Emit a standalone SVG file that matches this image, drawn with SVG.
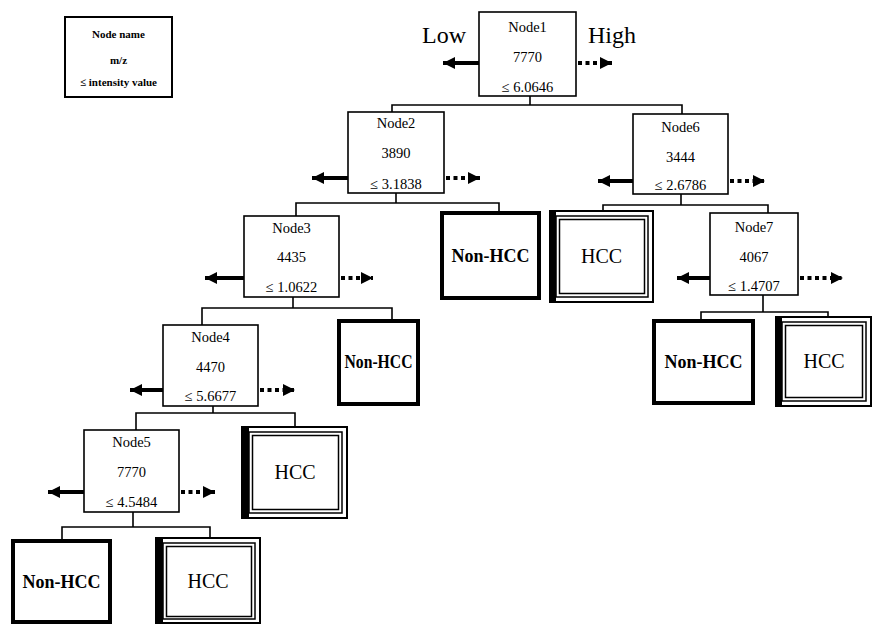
<svg xmlns="http://www.w3.org/2000/svg" width="873" height="624" viewBox="0 0 873 624">
<defs>
<style>
.bg{fill:#fff}
.nb{fill:#fff;stroke:#000;stroke-width:1.6}
.lg{fill:#fff;stroke:#000;stroke-width:2}
.t{font-family:"Liberation Serif","DejaVu Serif",serif;font-size:14.5px;fill:#000;text-anchor:middle}
.lt{font-family:"Liberation Serif","DejaVu Serif",serif;font-size:11px;font-weight:bold;fill:#000;text-anchor:middle}
.big{font-family:"Liberation Serif","DejaVu Serif",serif;font-size:24px;fill:#000}
.nh{fill:#fff;stroke:#000;stroke-width:4}
.nht{font-family:"Liberation Serif","DejaVu Serif",serif;font-size:18px;font-weight:bold;fill:#000;text-anchor:middle}
.ho{fill:#fff;stroke:#000;stroke-width:2}
.hi{fill:none;stroke:#000;stroke-width:1.5}
.hs{fill:#000}
.ht{font-family:"Liberation Serif","DejaVu Serif",serif;font-size:20px;fill:#000;text-anchor:middle}
.c{fill:none;stroke:#000;stroke-width:1.6}
.lo{stroke:#000;stroke-width:4;fill:none;marker-end:url(#ah)}
.hiA{stroke:#000;stroke-width:4;fill:none;stroke-dasharray:4 3.5;marker-end:url(#ah)}
</style>
<marker id="ah" markerUnits="userSpaceOnUse" markerWidth="13" markerHeight="12" refX="12" refY="6" orient="auto">
<path d="M0,0 L12,6 L0,12 Z" fill="#000"/>
</marker>
</defs>
<rect class="bg" x="0" y="0" width="873" height="624"/>

<g id="legend">
<rect class="lg" x="65" y="17" width="107" height="80"/>
<text class="lt" x="118.5" y="38">Node name</text>
<text class="lt" x="118.5" y="64">m/z</text>
<text class="lt" x="118.5" y="86">≤ intensity value</text>
</g>

<g id="labels">
<text class="big" x="422" y="43">Low</text>
<text class="big" x="588" y="43">High</text>
</g>

<g id="connectors">
<path class="c" d="M530,96 V105 M392,112 V105 H682 V114"/>
<path class="c" d="M396,193 V203 M296,216 V203 H499 V213"/>
<path class="c" d="M681,194 V205 M603,211 V205 H768 V213"/>
<path class="c" d="M293,297 V308 M202,325 V308 H392 V321"/>
<path class="c" d="M763,295 V312 M701,321 V312 H828 V317"/>
<path class="c" d="M213,406 V413 M136,430 V413 H295 V427"/>
<path class="c" d="M133,512 V527 M62,541 V527 H210 V538"/>
<line class="lo" x1="479" y1="63" x2="443" y2="63"/>
<line class="hiA" x1="578" y1="63" x2="612" y2="63"/>
<line class="lo" x1="348" y1="178" x2="312" y2="178"/>
<line class="hiA" x1="446" y1="178" x2="480" y2="178"/>
<line class="lo" x1="633" y1="181" x2="598" y2="181"/>
<line class="hiA" x1="730" y1="181" x2="765" y2="181"/>
<line class="lo" x1="244" y1="278" x2="205" y2="278"/>
<line class="hiA" x1="341" y1="278" x2="373" y2="278"/>
<line class="lo" x1="710" y1="278" x2="677" y2="278"/>
<line class="hiA" x1="800" y1="278" x2="843" y2="278"/>
<line class="lo" x1="163" y1="390" x2="130" y2="390"/>
<line class="hiA" x1="260" y1="390" x2="295" y2="390"/>
<line class="lo" x1="84" y1="492" x2="48" y2="492"/>
<line class="hiA" x1="181" y1="492" x2="215" y2="492"/>
</g>

<g id="node1">
<rect class="nb" x="479" y="12" width="97" height="84"/>
<text class="t" x="527.5" y="32">Node1</text>
<text class="t" x="527.5" y="62">7770</text>
<text class="t" x="527.5" y="92">≤ 6.0646</text>
</g>
<g id="node2">
<rect class="nb" x="348" y="112" width="96" height="81"/>
<text class="t" x="396" y="128">Node2</text>
<text class="t" x="396" y="158">3890</text>
<text class="t" x="396" y="189">≤ 3.1838</text>
</g>
<g id="node6">
<rect class="nb" x="633" y="114" width="95" height="80"/>
<text class="t" x="680.5" y="132">Node6</text>
<text class="t" x="680.5" y="162">3444</text>
<text class="t" x="680.5" y="190">≤ 2.6786</text>
</g>
<g id="node3">
<rect class="nb" x="244" y="216" width="95" height="81"/>
<text class="t" x="291.5" y="233">Node3</text>
<text class="t" x="291.5" y="262">4435</text>
<text class="t" x="291.5" y="292">≤ 1.0622</text>
</g>
<g id="node7">
<rect class="nb" x="710" y="213" width="88" height="82"/>
<text class="t" x="754" y="232">Node7</text>
<text class="t" x="754" y="262">4067</text>
<text class="t" x="754" y="291">≤ 1.4707</text>
</g>
<g id="node4">
<rect class="nb" x="163" y="325" width="95" height="81"/>
<text class="t" x="210.5" y="342">Node4</text>
<text class="t" x="210.5" y="372">4470</text>
<text class="t" x="210.5" y="401">≤ 5.6677</text>
</g>
<g id="node5">
<rect class="nb" x="84" y="430" width="95" height="82"/>
<text class="t" x="131.5" y="447">Node5</text>
<text class="t" x="131.5" y="477">7770</text>
<text class="t" x="131.5" y="507">≤ 4.5484</text>
</g>

<g id="leaf-nonhcc-a">
<rect class="nh" x="442" y="213" width="97" height="85"/>
<text class="nht" x="490.5" y="262">Non-HCC</text>
</g>
<g id="leaf-hcc-a">
<rect class="ho" x="550" y="211" width="103" height="91"/>
<rect class="hs" x="551" y="212" width="5" height="89"/>
<rect class="hi" x="556" y="216" width="92" height="81"/>
<rect class="hi" x="559.5" y="219.5" width="85" height="74"/>
<text class="ht" x="601.5" y="263">HCC</text>
</g>
<g id="leaf-nonhcc-b">
<rect class="nh" x="339" y="321" width="79" height="83"/>
<text class="nht" x="378.5" y="368" textLength="68" lengthAdjust="spacingAndGlyphs">Non-HCC</text>
</g>
<g id="leaf-nonhcc-c">
<rect class="nh" x="654" y="321" width="99" height="82"/>
<text class="nht" x="703.5" y="368">Non-HCC</text>
</g>
<g id="leaf-hcc-c">
<rect class="ho" x="776" y="317" width="95" height="89"/>
<rect class="hs" x="777" y="318" width="5" height="87"/>
<rect class="hi" x="782" y="322" width="84" height="79"/>
<rect class="hi" x="785.5" y="325.5" width="77" height="72"/>
<text class="ht" x="824" y="368">HCC</text>
</g>
<g id="leaf-hcc-b">
<rect class="ho" x="242" y="427" width="105" height="91"/>
<rect class="hs" x="243" y="428" width="6" height="89"/>
<rect class="hi" x="249" y="432" width="93" height="81"/>
<rect class="hi" x="252.5" y="435.5" width="86" height="74"/>
<text class="ht" x="295" y="479">HCC</text>
</g>
<g id="leaf-nonhcc-d">
<rect class="nh" x="13" y="541" width="97" height="81"/>
<text class="nht" x="61.5" y="588">Non-HCC</text>
</g>
<g id="leaf-hcc-d">
<rect class="ho" x="156" y="538" width="104" height="85"/>
<rect class="hs" x="157" y="539" width="6" height="83"/>
<rect class="hi" x="163" y="543" width="92" height="76"/>
<rect class="hi" x="166.5" y="546.5" width="85" height="70"/>
<text class="ht" x="208" y="588">HCC</text>
</g>
</svg>
